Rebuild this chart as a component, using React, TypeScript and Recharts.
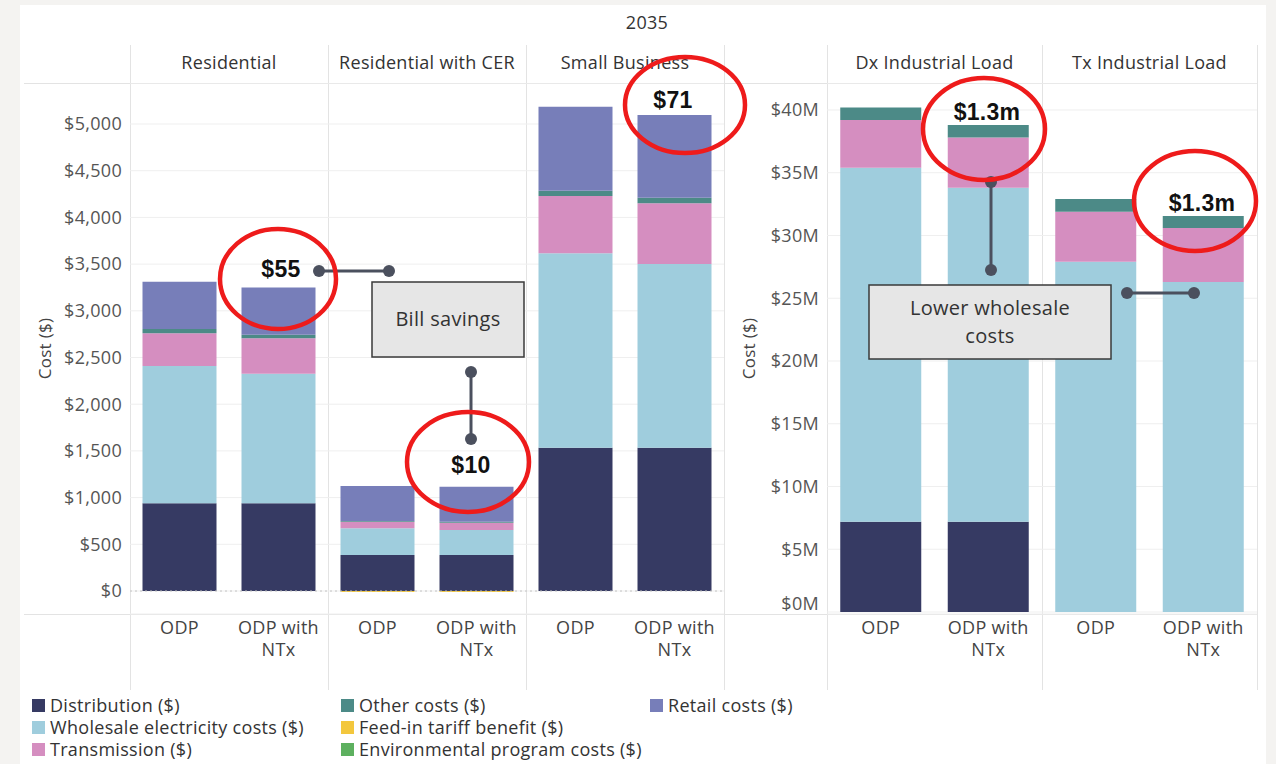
import React from 'react';
import { BarChart, Bar, XAxis, YAxis, CartesianGrid, ReferenceLine } from 'recharts';

const title = '2035';
const scenarios = ['ODP', 'ODP with NTx'];
const householdFacets = ['Residential', 'Residential with CER', 'Small Business'];
const industrialFacets = ['Dx Industrial Load', 'Tx Industrial Load'];

const seriesKeys = ['distribution', 'wholesale', 'transmission', 'other', 'feedIn', 'environmental', 'retail'];
const seriesNames = [
  'Distribution ($)',
  'Wholesale electricity costs ($)',
  'Transmission ($)',
  'Other costs ($)',
  'Feed-in tariff benefit ($)',
  'Environmental program costs ($)',
  'Retail costs ($)',
];
const seriesColors = ['#363a63', '#9fcddd', '#d58ec0', '#4c8a87', '#f3c73d', '#5db05f', '#777eb9'];

// Household bills ($): Residential ODP, Residential NTx, CER ODP, CER NTx, Small Business ODP, Small Business NTx
const hhDistribution = [940, 940, 385, 385, 1535, 1535];
const hhWholesale = [1470, 1385, 286, 268, 2080, 1966];
const hhTransmission = [350, 380, 70, 78, 615, 650];
const hhOther = [45, 40, 10, 10, 55, 60];
const hhFeedIn = [0, 0, -10, -10, 0, 0];
const hhEnvironmental = [0, 0, 0, 0, 0, 0];
const hhRetail = [505, 505, 373, 376, 900, 885];

// Industrial loads ($M): Dx ODP, Dx NTx, Tx ODP, Tx NTx
const indDistribution = [7.2, 7.2, 0, 0];
const indWholesale = [28.2, 26.6, 27.9, 26.3];
const indTransmission = [3.8, 4.0, 4.0, 4.3];
const indOther = [1.0, 1.0, 1.0, 0.95];
const indFeedIn = [0, 0, 0, 0];
const indEnvironmental = [0, 0, 0, 0];
const indRetail = [0, 0, 0, 0];

const hhTicks = [0, 500, 1000, 1500, 2000, 2500, 3000, 3500, 4000, 4500, 5000];
const indTicks = [0, 5, 10, 15, 20, 25, 30, 35, 40];

const FONT = "'Open Sans', 'Noto Sans', sans-serif";
const BOLD_FONT = "'Liberation Sans', Arial, sans-serif";
const FS = 18;
const LS = 0.3;

function buildRows(facets: string[], cols: number[][]) {
  const rows: any[] = [];
  facets.forEach((f, fi) =>
    scenarios.forEach((s, si) => {
      const i = fi * scenarios.length + si;
      const row: any = { key: `${f}|${s}`, facet: f, scenario: s };
      seriesKeys.forEach((k, ki) => {
        row[k] = cols[ki][i];
      });
      rows.push(row);
    })
  );
  return rows;
}

const hhRows = buildRows(householdFacets, [hhDistribution, hhWholesale, hhTransmission, hhOther, hhFeedIn, hhEnvironmental, hhRetail]);
const indRows = buildRows(industrialFacets, [indDistribution, indWholesale, indTransmission, indOther, indFeedIn, indEnvironmental, indRetail]);

// layout
const TOP = 83;
const PLOT_BOTTOM = 614;
const AXIS_BOTTOM = 690;
const HEAD_TOP = 45;
const LEFT = { x0: 20, yw: 110, fw: 198, gap: 12.5, domain: [-246, 5439] };
const RIGHT = { x0: 724, yw: 103, fw: 215, gap: 13.25, domain: [-0.16, 42.15] };

const ScenarioTick = (props: any) => {
  const { x, y, payload } = props;
  const label = String(payload.value).split('|')[1];
  const lines = label === 'ODP with NTx' ? ['ODP with', 'NTx'] : [label];
  return (
    <text x={x} y={y} textAnchor="middle" fill="#444" fontSize={FS} letterSpacing={LS} fontFamily={FONT}>
      {lines.map((l, i) => (
        <tspan key={i} x={x} dy={i === 0 ? 12 : 22}>
          {l}
        </tspan>
      ))}
    </text>
  );
};

const makeYTick = (fmt: (v: number) => string, zeroShift: number) => (props: any) => {
  const { x, y, payload } = props;
  const dy = payload.value === 0 ? zeroShift : 0;
  return (
    <text x={x} y={y + dy} dy="0.35em" textAnchor="end" fill="#555" fontSize={FS} letterSpacing={LS} fontFamily={FONT}>
      {fmt(payload.value)}
    </text>
  );
};

const HhTick = makeYTick((v) => `$${v.toLocaleString('en-US')}`, 0);
const IndTick = makeYTick((v) => `$${v}M`, -8);

function Group({ cfg, rows, ticks, tick, facets, zeroLine }: any) {
  const width = cfg.yw + facets.length * cfg.fw;
  const height = AXIS_BOTTOM - TOP;
  return (
    <div style={{ position: 'absolute', left: cfg.x0, top: TOP }}>
      <BarChart
        width={width}
        height={height}
        data={rows}
        margin={{ top: 0, right: 0, bottom: 0, left: 0 }}
        barCategoryGap={cfg.gap}
        stackOffset="sign"
      >
        <CartesianGrid vertical={false} stroke="#efefef" />
        <XAxis dataKey="key" height={AXIS_BOTTOM - PLOT_BOTTOM} tick={<ScenarioTick />} tickLine={false} axisLine={false} interval={0} />
        <YAxis
          type="number"
          domain={cfg.domain}
          ticks={ticks}
          width={cfg.yw}
          tick={tick}
          tickLine={false}
          axisLine={false}
          tickSize={6}
          tickMargin={2}
          label={{
            value: 'Cost ($)',
            angle: -90,
            position: 'insideLeft',
            offset: 25,
            style: { textAnchor: 'middle', fill: '#444', fontSize: 17, fontFamily: FONT },
          }}
        />
        {zeroLine && <ReferenceLine y={0} stroke="#c4c4c4" strokeDasharray="2 3" />}
        {seriesKeys.map((k, i) => (
          <Bar key={k} dataKey={k} name={seriesNames[i]} stackId="s" fill={seriesColors[i]} isAnimationActive={false} />
        ))}
      </BarChart>
    </div>
  );
}

export default function App() {
  const vLines: number[] = [];
  for (let i = 0; i <= householdFacets.length; i++) vLines.push(LEFT.x0 + LEFT.yw + i * LEFT.fw);
  for (let i = 0; i <= industrialFacets.length; i++) vLines.push(RIGHT.x0 + RIGHT.yw + i * RIGHT.fw);
  const rightEdge = RIGHT.x0 + RIGHT.yw + industrialFacets.length * RIGHT.fw;

  const headers = [
    ...householdFacets.map((f, i) => ({ f, x: LEFT.x0 + LEFT.yw + i * LEFT.fw, w: LEFT.fw })),
    ...industrialFacets.map((f, i) => ({ f, x: RIGHT.x0 + RIGHT.yw + i * RIGHT.fw, w: RIGHT.fw })),
  ];

  const ann = '#4b505e';
  const red = '#ee1b1b';

  return (
    <div style={{ position: 'absolute', left: 0, top: 0, width: 1276, height: 764, background: '#f4f3f1', overflow: 'hidden', fontFamily: FONT, letterSpacing: LS }}>
      <div style={{ position: 'absolute', left: 20, top: 5, width: 1246, height: 759, background: '#ffffff' }} />
      <div style={{ position: 'absolute', left: 547, top: 10, width: 200, textAlign: 'center', fontSize: FS, color: '#333', lineHeight: '24px' }}>
        {title}
      </div>
      {headers.map((h) => (
        <div
          key={h.f}
          style={{
            position: 'absolute',
            left: h.x,
            top: HEAD_TOP - 2,
            width: h.w,
            height: TOP - HEAD_TOP,
            display: 'flex',
            alignItems: 'center',
            justifyContent: 'center',
            fontSize: FS,
            color: '#333',
            whiteSpace: 'nowrap',
          }}
        >
          {h.f}
        </div>
      ))}
      {vLines.map((x, i) => (
        <div key={i} style={{ position: 'absolute', left: x, top: HEAD_TOP, width: 1, height: AXIS_BOTTOM - HEAD_TOP, background: '#e3e3e3' }} />
      ))}
      <div style={{ position: 'absolute', left: 24, top: TOP, width: rightEdge - 24, height: 1, background: '#e3e3e3' }} />
      <div style={{ position: 'absolute', left: 24, top: PLOT_BOTTOM, width: rightEdge - 24, height: 1, background: '#e3e3e3' }} />

      <Group cfg={LEFT} rows={hhRows} ticks={hhTicks} tick={<HhTick />} facets={householdFacets} zeroLine />
      <Group cfg={RIGHT} rows={indRows} ticks={indTicks} tick={<IndTick />} facets={industrialFacets} zeroLine={false} />

      <div
        style={{
          position: 'absolute',
          left: 32,
          top: 694,
          display: 'grid',
          gridAutoFlow: 'column',
          gridTemplateRows: 'repeat(3, 22px)',
          gridTemplateColumns: 'repeat(3, 309px)',
          fontSize: FS,
          color: '#333',
        }}
      >
        {seriesNames.map((n, i) => (
          <div key={n} style={{ display: 'flex', alignItems: 'center', whiteSpace: 'nowrap' }}>
            <span style={{ display: 'inline-block', width: 13, height: 13, background: seriesColors[i], marginRight: 5 }} />
            {n}
          </div>
        ))}
      </div>

      <svg width={1276} height={764} style={{ position: 'absolute', left: 0, top: 0, pointerEvents: 'none' }}>
        <g stroke={ann} strokeWidth={3} fill={ann}>
          <line x1={319} y1={271} x2={389} y2={271} />
          <circle cx={319} cy={271} r={6} stroke="none" />
          <circle cx={389} cy={271} r={6} stroke="none" />
          <line x1={471} y1={372} x2={471} y2={439} />
          <circle cx={471} cy={372} r={6} stroke="none" />
          <circle cx={471} cy={439} r={6} stroke="none" />
          <line x1={991} y1={182} x2={991} y2={270} />
          <circle cx={991} cy={182} r={6} stroke="none" />
          <circle cx={991} cy={270} r={6} stroke="none" />
          <line x1={1127} y1={293} x2={1194} y2={293} />
          <circle cx={1127} cy={293} r={6} stroke="none" />
          <circle cx={1194} cy={293} r={6} stroke="none" />
        </g>
        <rect x={372} y={282} width={152} height={75} fill="#e6e6e6" stroke="#3a3a3a" strokeWidth={1.5} />
        <text x={448} y={326} textAnchor="middle" fontSize={20} letterSpacing={LS} fill="#333" fontFamily={FONT}>
          Bill savings
        </text>
        <rect x={869} y={285} width={242} height={74} fill="#e6e6e6" stroke="#3a3a3a" strokeWidth={1.5} />
        <text x={990} y={315} textAnchor="middle" fontSize={20} letterSpacing={LS} fill="#333" fontFamily={FONT}>
          Lower wholesale
        </text>
        <text x={990} y={343} textAnchor="middle" fontSize={20} letterSpacing={LS} fill="#333" fontFamily={FONT}>
          costs
        </text>
        <g fontFamily={BOLD_FONT} fontWeight="bold" fontSize={23} fill="#111" textAnchor="middle">
          <text x={281} y={277}>$55</text>
          <text x={471} y={473}>$10</text>
          <text x={673} y={108}>$71</text>
          <text x={987} y={120}>$1.3m</text>
          <text x={1202} y={211}>$1.3m</text>
        </g>
        <g fill="none" stroke={red} strokeWidth={4.5}>
          <ellipse cx={278} cy={279} rx={58} ry={50} />
          <ellipse cx={468} cy={462} rx={61} ry={50} />
          <ellipse cx={685} cy={105} rx={60} ry={48} />
          <ellipse cx={984} cy={129} rx={61} ry={51} />
          <ellipse cx={1195} cy={201} rx={61} ry={50} />
        </g>
      </svg>
    </div>
  );
}
